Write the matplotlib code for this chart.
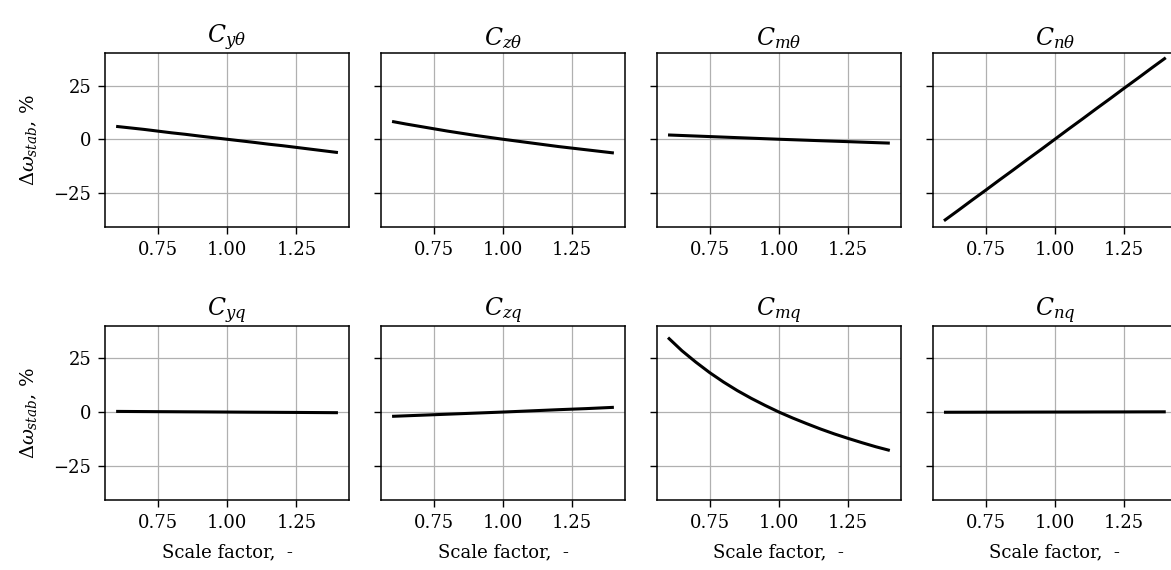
import matplotlib
matplotlib.use("Agg")
import matplotlib.pyplot as plt

scale = [0.60, 0.65, 0.70, 0.75, 0.80, 0.85, 0.90, 0.95, 1.00,
         1.05, 1.10, 1.15, 1.20, 1.25, 1.30, 1.35, 1.40]

titles = [r"$C_{y\theta}$", r"$C_{z\theta}$", r"$C_{m\theta}$", r"$C_{n\theta}$",
          r"$C_{yq}$", r"$C_{zq}$", r"$C_{mq}$", r"$C_{nq}$"]

c_y_theta = [6.0, 5.3, 4.6, 3.8, 3.0, 2.3, 1.5, 0.75, 0.0,
             -0.75, -1.5, -2.3, -3.0, -3.8, -4.6, -5.4, -6.2]
c_z_theta = [8.3, 7.1, 6.0, 4.9, 3.8, 2.8, 1.8, 0.9, 0.0,
             -0.85, -1.7, -2.55, -3.4, -4.15, -4.9, -5.65, -6.4]
c_m_theta = [2.0, 1.75, 1.5, 1.25, 1.0, 0.75, 0.5, 0.25, 0.0,
             -0.22, -0.45, -0.68, -0.9, -1.12, -1.35, -1.58, -1.8]
c_n_theta = [-38.0, -33.3, -28.5, -23.8, -19.0, -14.3, -9.5, -4.8, 0.0,
             4.8, 9.5, 14.3, 19.0, 23.8, 28.5, 33.3, 38.0]
c_y_q = [0.3, 0.26, 0.22, 0.18, 0.15, 0.11, 0.08, 0.04, 0.0,
         -0.04, -0.08, -0.11, -0.15, -0.18, -0.22, -0.26, -0.3]
c_z_q = [-2.0, -1.75, -1.5, -1.25, -1.0, -0.75, -0.5, -0.25, 0.0,
         0.27, 0.55, 0.82, 1.1, 1.35, 1.6, 1.9, 2.2]
c_m_q = [34.7, 28.6, 23.3, 18.4, 14.0, 10.0, 6.4, 3.1, 0.0,
         -2.8, -5.4, -7.9, -10.2, -12.3, -14.3, -16.2, -17.9]
c_n_q = [-0.1, -0.09, -0.08, -0.06, -0.05, -0.04, -0.02, -0.01, 0.0,
         0.01, 0.02, 0.04, 0.05, 0.06, 0.08, 0.09, 0.1]

series = [c_y_theta, c_z_theta, c_m_theta, c_n_theta,
          c_y_q, c_z_q, c_m_q, c_n_q]

xticks = [0.75, 1.00, 1.25]
xticklabels = ["0.75", "1.00", "1.25"]
yticks = [-25, 0, 25]

plt.rcParams["font.family"] = ["DejaVu Serif"]
plt.rcParams["mathtext.fontset"] = "dejavuserif"

fig, axes = plt.subplots(2, 4, figsize=(11.71, 5.70), dpi=100, sharey=True)
fig.subplots_adjust(left=0.0897, right=1.005, top=0.907, bottom=0.1228,
                    wspace=0.131, hspace=0.566)

for i, ax in enumerate(axes.flat):
    ax.plot(scale, series[i], color="black", lw=2.2, zorder=3,
            solid_capstyle="butt")
    ax.set_title(titles[i], fontsize=17, pad=6)
    ax.grid(True, color="#b0b0b0", lw=0.9)
    ax.set_axisbelow(True)
    ax.set_xticks(xticks)
    ax.set_xticklabels(xticklabels)
    ax.set_yticks(yticks)
    ax.tick_params(labelsize=13, length=5, width=1.0, pad=5)
    for s in ax.spines.values():
        s.set_linewidth(1.1)
    ax.set_ylim(-41.0, 40.2)
    if i % 4 == 0:
        ax.set_ylabel(r"$\Delta\omega_{stab}$, %", fontsize=14, labelpad=10)
    if i >= 4:
        ax.set_xlabel("Scale factor,  -", fontsize=13, labelpad=8)

fig.savefig("out.png", dpi=100)
